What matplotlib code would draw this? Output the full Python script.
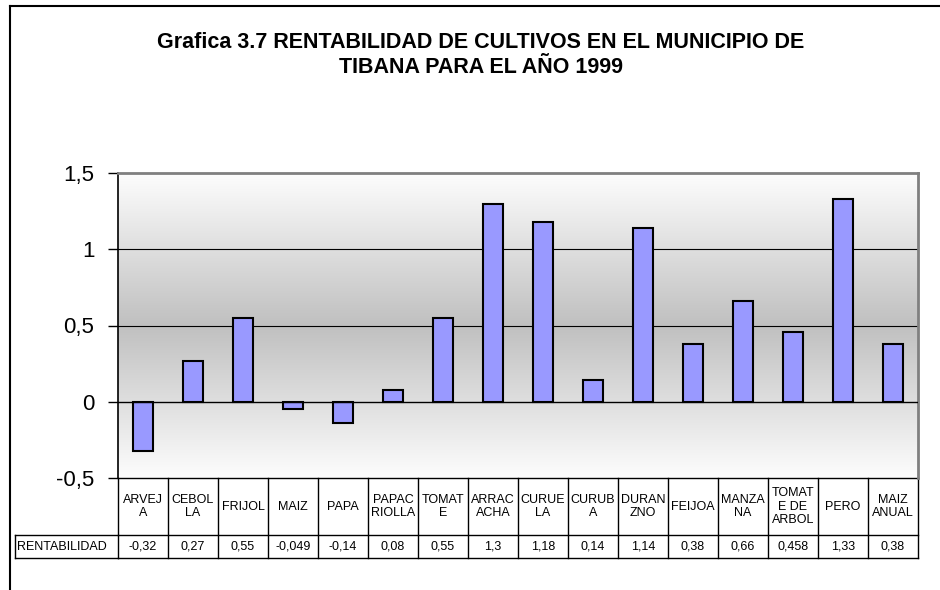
import numpy as np
import matplotlib
matplotlib.use("Agg")
import matplotlib.pyplot as plt
from matplotlib.lines import Line2D
from matplotlib.ticker import FuncFormatter
import matplotlib.transforms as mtransforms
from matplotlib.colors import LinearSegmentedColormap

plt.rcParams['font.family'] = ['Liberation Sans', 'DejaVu Sans']

# data
cultivos = ["ARVEJ\nA", "CEBOL\nLA", "FRIJOL", "MAIZ", "PAPA", "PAPAC\nRIOLLA",
            "TOMAT\nE", "ARRAC\nACHA", "CURUE\nLA", "CURUB\nA", "DURAN\nZNO",
            "FEIJOA", "MANZA\nNA", "TOMAT\nE DE\nARBOL", "PERO", "MAIZ\nANUAL"]
rentabilidad = [-0.32, 0.27, 0.55, -0.049, -0.14, 0.08, 0.55, 1.3, 1.18,
                0.14, 1.14, 0.38, 0.66, 0.458, 1.33, 0.38]
serie = "RENTABILIDAD"
titulo = "Grafica 3.7 RENTABILIDAD DE CULTIVOS EN EL MUNICIPIO DE\nTIBANA PARA EL AÑO 1999"
yticks = [-0.5, 0, 0.5, 1, 1.5]

W, H = 940, 590
fig = plt.figure(figsize=(W / 100, H / 100), dpi=100)

# plot area in pixels
left, right, top, bottom = 118, 918, 173, 478
ax = fig.add_axes([left / W, 1 - bottom / H, (right - left) / W, (bottom - top) / H])

n = len(cultivos)
x = np.arange(n)
ax.set_xlim(-0.5, n - 0.5)
ax.set_ylim(-0.5, 1.5)

# gradient background, darker in the middle
cmap = LinearSegmentedColormap.from_list("g", ["#fdfdfd", "#c0c0c0", "#fdfdfd"])
grad = np.linspace(0, 1, 256).reshape(-1, 1)
ax.imshow(grad, cmap=cmap, aspect='auto', extent=(-0.5, n - 0.5, -0.5, 1.5),
          zorder=0, origin='lower')

for yv in [0.5, 1.0]:
    ax.axhline(yv, color='black', lw=0.8, zorder=1)
ax.axhline(0, color='black', lw=1.0, zorder=3)

ax.bar(x, rentabilidad, width=0.4, color='#9999ff', edgecolor='black',
       linewidth=1.5, zorder=2)

ax.set_yticks(yticks)
ax.yaxis.set_major_formatter(FuncFormatter(lambda v, p: f"{v:g}".replace('.', ',')))
ax.tick_params(axis='y', labelsize=16, length=7, width=1, direction='out', pad=10)
ax.set_xticks([])

ax.spines['bottom'].set_visible(False)
ax.spines['left'].set_color('black')
ax.spines['left'].set_linewidth(1.2)
ax.spines['top'].set_color('#808080')
ax.spines['top'].set_linewidth(2)
ax.spines['right'].set_color('#808080')
ax.spines['right'].set_linewidth(2)

# data table under the axis
trans = mtransforms.blended_transform_factory(ax.transData, ax.transAxes)
ph = bottom - top
r0 = 0.0
r1 = -(535 - bottom) / ph
r2 = -(558 - bottom) / ph
lk = dict(color='black', lw=1, transform=trans, clip_on=False)

ax.add_line(Line2D([-0.5, n - 0.5], [r0, r0], **lk))
ax.add_line(Line2D([-0.5, n - 0.5], [r1, r1], **lk))
ax.add_line(Line2D([-0.5, n - 0.5], [r2, r2], **lk))
for i in range(n + 1):
    ax.add_line(Line2D([i - 0.5, i - 0.5], [r0, r2], **lk))

for i, (c, v) in enumerate(zip(cultivos, rentabilidad)):
    ax.text(i, (r0 + r1) / 2, c, transform=trans, ha='center', va='center',
            fontsize=9, linespacing=1.2, clip_on=False)
    ax.text(i, (r1 + r2) / 2, str(v).replace('.', ','), transform=trans,
            ha='center', va='center', fontsize=9, clip_on=False)

# row label cell
ftrans = fig.transFigure
lab_l = 15 / W
ax_l = left / W
y1 = 1 - 535 / H
y2 = 1 - 558 / H
fk = dict(color='black', lw=1, transform=ftrans)
fig.add_artist(Line2D([lab_l, ax_l], [y1, y1], **fk))
fig.add_artist(Line2D([lab_l, ax_l], [y2, y2], **fk))
fig.add_artist(Line2D([lab_l, lab_l], [y1, y2], **fk))
fig.text(lab_l + 2 / W, (y1 + y2) / 2, serie, ha='left', va='center', fontsize=9)

# chart frame (only left and top are visible)
fig.add_artist(Line2D([9.5 / W, 9.5 / W], [0, 1 - 5.5 / H], color='black', lw=1.5, transform=ftrans))
fig.add_artist(Line2D([9.5 / W, 1], [1 - 5.5 / H, 1 - 5.5 / H], color='black', lw=1.5, transform=ftrans))

fig.text(481 / W, 1 - 55 / H, titulo, ha='center', va='center',
         fontsize=15.5, fontweight='bold', linespacing=1.25)

fig.savefig("out.png", dpi=100)
